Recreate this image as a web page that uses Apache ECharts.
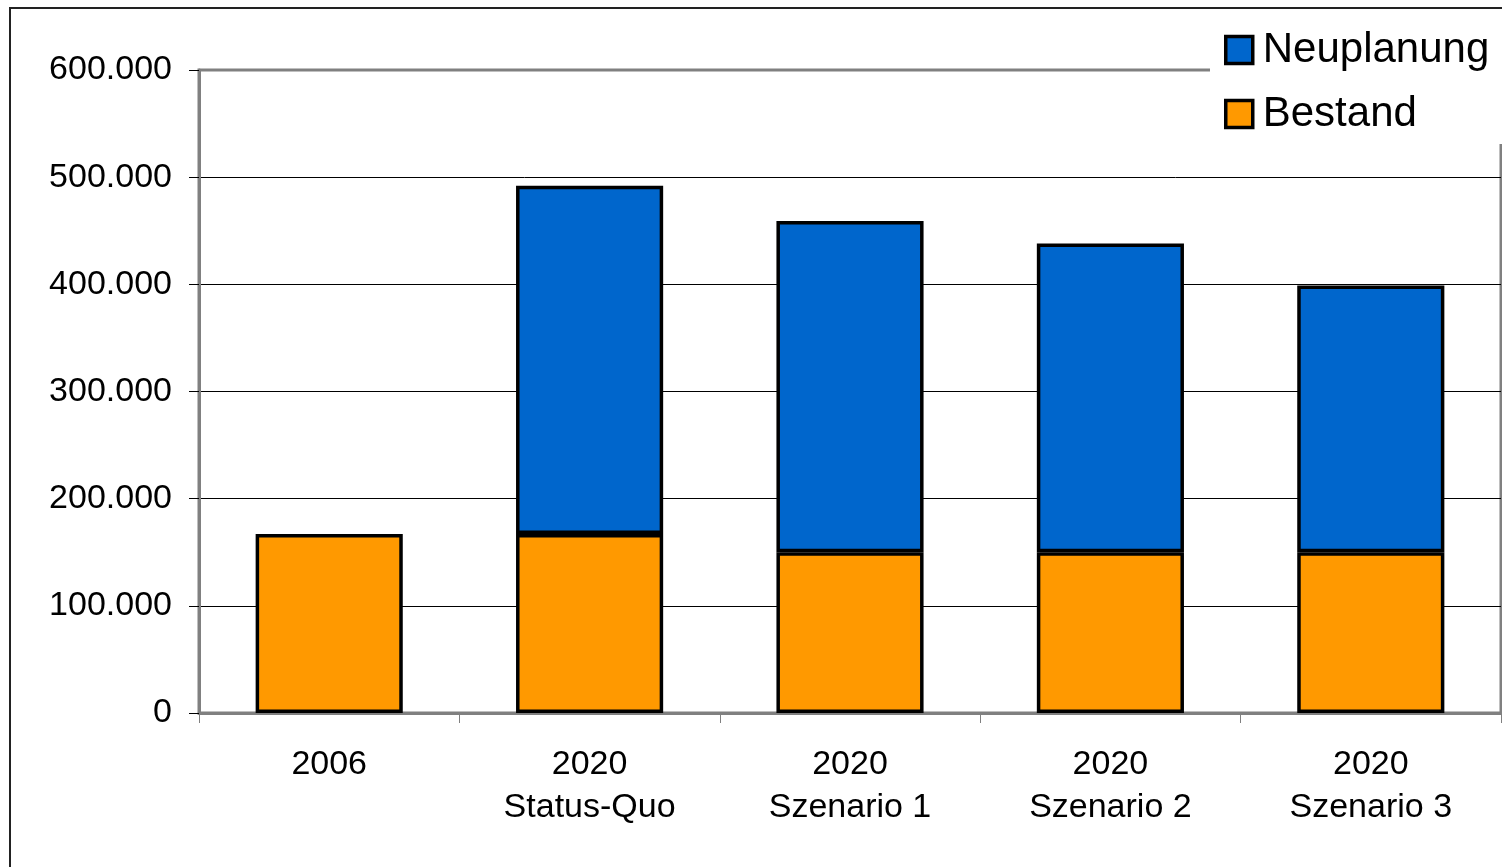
<!DOCTYPE html>
<html>
<head>
<meta charset="utf-8">
<script src="https://cdn.jsdelivr.net/npm/echarts@6/dist/echarts.min.js"></script>
<style>
  html, body { margin: 0; padding: 0; background: #fff; }
  #chart { width: 1502px; height: 867px; }
</style>
</head>
<body>
<div id="chart"></div>
<script>
// Categories and stacked values (Bestand + Neuplanung)
const categories = ['2006', '2020\nStatus-Quo', '2020\nSzenario 1', '2020\nSzenario 2', '2020\nSzenario 3'];
const bestand = [167000, 167000, 150000, 150000, 150000];
const neuplanung = ['-', 325000, 309000, 288000, 249000];
const yTicks = [0, 100000, 200000, 300000, 400000, 500000, 600000];

const FONT = '"Liberation Sans", Arial, sans-serif';

function fmtThousands(v) {
  return String(v).replace(/\B(?=(\d{3})+(?!\d))/g, '.');
}

const chart = echarts.init(document.getElementById('chart'), null, { renderer: 'canvas' });

chart.setOption({
  animation: false,
  backgroundColor: '#fff',
  textStyle: { fontFamily: FONT, color: '#000' },
  graphic: [{
    type: 'rect',
    z: -10,
    shape: { x: 10, y: 8, width: 1600, height: 1000 },
    style: { fill: 'none', stroke: '#222', lineWidth: 2 }
  }],
  legend: {
    orient: 'vertical',
    left: 1210,
    top: 17,
    padding: [12, 60, 9, 14],
    backgroundColor: '#fff',
    icon: 'rect',
    itemWidth: 27,
    itemHeight: 27,
    itemGap: 22,
    itemStyle: { borderColor: '#000', borderWidth: 3.5 },
    selectedMode: false,
    z: 10,
    data: ['Neuplanung', 'Bestand'],
    textStyle: { fontSize: 42, lineHeight: 42, color: '#000', fontFamily: FONT, padding: [0, 0, 0, 5] }
  },
  grid: {
    left: 199, right: 1, top: 70, bottom: 154,
    show: true, borderColor: '#808080', borderWidth: 3, backgroundColor: 'transparent'
  },
  xAxis: {
    type: 'category',
    data: categories,
    axisLine: { lineStyle: { color: '#808080', width: 3 } },
    axisTick: { show: true, alignWithLabel: false, length: 10, lineStyle: { color: '#808080', width: 1 } },
    axisLabel: { fontSize: 34, lineHeight: 43, color: '#000', margin: 30, fontFamily: FONT, interval: 0 }
  },
  yAxis: {
    type: 'value',
    min: yTicks[0],
    max: yTicks[yTicks.length - 1],
    interval: yTicks[1] - yTicks[0],
    axisLine: { show: true, lineStyle: { color: '#808080', width: 3 } },
    axisTick: { show: true, length: 10, lineStyle: { color: '#000', width: 1 } },
    axisLabel: { fontSize: 34, color: '#000', margin: 27, fontFamily: FONT, formatter: fmtThousands },
    splitLine: { show: true, lineStyle: { color: ['#000', '#000', '#000', '#000', '#000', '#000', '#808080'], width: 1 } }
  },
  series: [
    {
      name: 'Bestand',
      type: 'bar',
      stack: 'total',
      barWidth: '56.5%',
      data: bestand,
      itemStyle: { color: '#FF9900', borderColor: '#000', borderWidth: 3.5 }
    },
    {
      name: 'Neuplanung',
      type: 'bar',
      stack: 'total',
      barWidth: '56.5%',
      data: neuplanung,
      itemStyle: { color: '#0066CC', borderColor: '#000', borderWidth: 3.5 }
    }
  ]
});
</script>
</body>
</html>
